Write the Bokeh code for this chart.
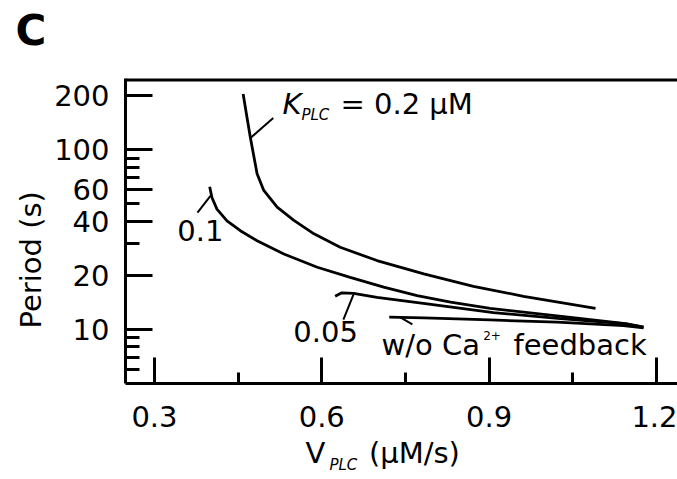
from bokeh.plotting import figure
from bokeh.models import (Range1d, FixedTicker, LinearAxis, Label, Span,
                          Title, NumeralTickFormatter)
from bokeh.embed import file_html
from bokeh.resources import INLINE

# Oscillation period versus V_PLC for several K_PLC values
v_k02 = [0.459, 0.466, 0.472, 0.484, 0.496, 0.520, 0.550, 0.586, 0.633,
         0.699, 0.783, 0.872, 0.962, 1.091]
p_k02 = [205, 151, 117, 73.6, 59.5, 48.0, 40.5, 34.1, 28.7,
         24.2, 20.4, 17.4, 15.3, 13.1]

v_k01 = [0.399, 0.403, 0.412, 0.430, 0.454, 0.484, 0.532, 0.592, 0.651,
         0.711, 0.771, 0.831, 0.902, 1.022, 1.141, 1.177]
p_k01 = [62.3, 54.3, 46.8, 40.3, 35.5, 31.2, 26.3, 22.2, 19.5,
         17.2, 15.45, 14.2, 13.1, 11.9, 10.8, 10.3]

v_k005 = [0.624, 0.636, 0.657, 0.699, 0.789, 0.908, 1.028, 1.147, 1.177]
p_k005 = [15.3, 16.0, 15.9, 15.1, 13.9, 12.4, 11.5, 10.75, 10.3]

v_noca = [0.721, 0.783, 0.902, 1.022, 1.141, 1.177]
p_noca = [11.7, 11.6, 11.3, 10.98, 10.5, 10.2]

x_ticks = [0.3, 0.6, 0.9, 1.2]
x_minor = [0.45, 0.75, 1.05]
y_ticks = [10, 20, 40, 60, 100, 200]
y_minor = [6, 7, 8, 9, 30, 50, 70, 80, 90]

FONT = "DejaVu Sans"
TICK_SIZE = "29px"
ANN_SIZE = "29px"

X_MIN, X_MAX = 0.248, 1.238
Y_MIN, Y_MAX = 5, 250

p = figure(width=677, height=479, title=None,
           x_range=Range1d(X_MIN, X_MAX), y_range=Range1d(Y_MIN, Y_MAX),
           y_axis_type="log", output_backend="svg", toolbar_location=None,
           min_border_left=125, min_border_right=0,
           min_border_top=78, min_border_bottom=96)
p.outline_line_color = None
p.grid.visible = False
p.background_fill_color = "white"
p.border_fill_color = "white"

# bottom axis
xa = p.xaxis[0]
xa.ticker = FixedTicker(ticks=x_ticks, minor_ticks=x_minor)
xa.formatter = NumeralTickFormatter(format="0.0")
xa.axis_line_width = 3
xa.major_tick_line_width = 3
xa.minor_tick_line_width = 3
xa.major_tick_in = 26
xa.major_tick_out = 0
xa.minor_tick_in = 11
xa.minor_tick_out = 0
xa.major_label_standoff = 22
xa.major_label_text_font = FONT
xa.major_label_text_font_size = TICK_SIZE
xa.major_label_text_color = "black"

# x-axis title row: symbol and unit
V_POS, UNIT_POS = 0.5886, 0.7661
title_axis = LinearAxis(
    ticker=FixedTicker(ticks=[V_POS, UNIT_POS]),
    major_label_overrides={V_POS: "V", UNIT_POS: "(µM/s)"},
    axis_line_color=None, major_tick_line_color=None,
    minor_tick_line_color=None, major_tick_in=0, major_tick_out=0,
    minor_tick_in=0, minor_tick_out=0, major_label_standoff=6,
    major_label_text_font=FONT, major_label_text_font_size=TICK_SIZE,
    major_label_text_color="black")
p.add_layout(title_axis, "below")

# left axis
ya = p.yaxis[0]
ya.ticker = FixedTicker(ticks=y_ticks, minor_ticks=y_minor)
ya.formatter = NumeralTickFormatter(format="0")
ya.axis_line_width = 3
ya.major_tick_line_width = 3
ya.minor_tick_line_width = 3
ya.major_tick_in = 27
ya.major_tick_out = 0
ya.minor_tick_in = 14
ya.minor_tick_out = 0
ya.major_label_standoff = 16
ya.major_label_text_font = FONT
ya.major_label_text_font_size = TICK_SIZE
ya.major_label_text_color = "black"

p.add_layout(Title(text="Period (s)", align="left", offset=55,
                   vertical_align="bottom", standoff=8, text_font=FONT,
                   text_font_size=TICK_SIZE, text_font_style="normal",
                   text_color="black"), "left")

# top frame line
p.add_layout(Span(location=Y_MAX, dimension="width", line_width=6,
                  line_color="black"))

# curves
for xs, ys in [(v_k02, p_k02), (v_k01, p_k01), (v_k005, p_k005), (v_noca, p_noca)]:
    p.line(xs, ys, line_width=2.8, line_color="black")

# leader lines for the curve labels
leaders = [
    ([0.472, 0.513], [116.6, 150.5]),
    ([0.4004, 0.3771], [55.5, 44.7]),
    ([0.6568, 0.6388], [15.65, 11.36]),
    ([0.741, 0.7625], [11.66, 10.66]),
]
for xs, ys in leaders:
    p.line(xs, ys, line_width=2, line_color="black")


def make_text(x, y, text, size=ANN_SIZE, style="normal", align="left"):
    # y is the vertical centre of the glyphs
    return Label(x=x, y=y, text=text, text_font=FONT, text_font_size=size,
                 text_font_style=style, text_color="black",
                 text_align=align, text_baseline="middle")


# curve labels
for lab in [
    make_text(0.5295, 179.2, "K", style="italic"),
    make_text(0.5635, 156.6, "PLC", size="15px", style="italic"),
    make_text(0.6335, 179.2, "= 0.2 µM"),
    make_text(0.341, 35.6, "0.1"),
    make_text(0.549, 9.80, "0.05"),
    make_text(0.707, 8.19, "w/o Ca"),
    make_text(0.8895, 9.26, "2+", size="12px"),
    make_text(0.944, 8.19, "feedback"),
]:
    p.add_layout(lab)

# subscript of the x-axis symbol and the panel letter
p.add_layout(make_text(0.6137, 1.769, "PLC", size="15px", style="italic"), "above")
p.add_layout(make_text(0.0508, 463.0, "C", size="42px", style="bold"), "above")

open("out.html", "w").write(file_html(p, INLINE))
